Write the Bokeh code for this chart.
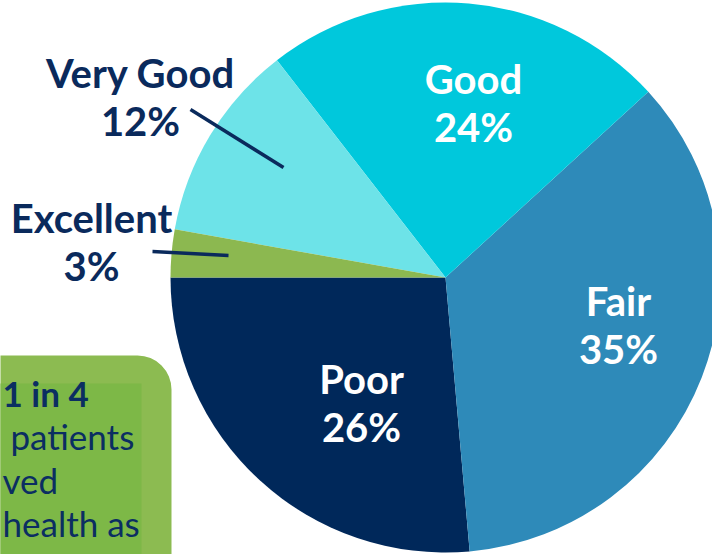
import math
from bokeh.plotting import figure
from bokeh.models import ColumnDataSource, Range1d, BoxAnnotation
from bokeh.core.properties import value
from bokeh.embed import file_html
from bokeh.resources import INLINE

# ---- data ----
categories = ["Poor", "Fair", "Good", "Very Good", "Excellent"]
shares = [26.4, 35.4, 23.7, 11.7, 2.8]
slice_colors = ["#00285A", "#2E8AB9", "#00C8DC", "#6DE3E8", "#8CB850"]
callout_lines = ["1 in 4", "patients", "ved", "health as"]
callout_bold = [True, False, False, False]

# ---- layout constants (pixel-like data units, y up) ----
W, H = 712, 554
CX, CY, R = 445, H - 277, 275
NAVY = "#0A2A5C"
SHIFT = 15
# label anchor (x, baseline of first line) in screen px from top-left
label_pos = {
    "Poor": (361, 393, "#FFFFFF"),
    "Fair": (618, 315, "#FFFFFF"),
    "Good": (473, 93, "#FFFFFF"),
    "Very Good": (140, 87, NAVY),
    "Excellent": (91, 232, NAVY),
}
LINE_GAP = 48
leaders = {"Very Good": ((190, 109), (283, 167)), "Excellent": ((152, 251), (228, 255))}

# ---- wedges ----
total = sum(shares)
starts, ends = [], []
acc = math.pi
for s in shares:
    starts.append(acc)
    acc += 2 * math.pi * s / total
    ends.append(acc)

src = ColumnDataSource(dict(cat=categories, start=starts, end=ends, color=slice_colors))

p = figure(width=W, height=H, output_backend="svg", toolbar_location=None,
           x_range=Range1d(0, W), y_range=Range1d(0, H), min_border=0)
p.axis.visible = False
p.grid.visible = False
p.outline_line_color = None
p.background_fill_color = "white"
p.border_fill_color = "white"

# callout box (behind)
outer = BoxAnnotation(left=-60, right=171, top=H - 355, bottom=-60,
                      fill_color="#8CBB51", fill_alpha=1, line_color=None,
                      border_radius=34, level="underlay")
inner = BoxAnnotation(left=-60, right=141, top=H - 383, bottom=-60,
                      fill_color="#7DB847", fill_alpha=1, line_color=None,
                      level="underlay")
p.add_layout(outer)
p.add_layout(inner)

p.wedge(x=CX, y=CY, radius=R, start_angle="start", end_angle="end",
        fill_color="color", line_color=None, source=src)

# slice labels
lx, ly, lt, lc = [], [], [], []
for c, s in zip(categories, shares):
    x0, y0, col = label_pos[c]
    lx += [x0, x0]
    ly += [H - (y0 - SHIFT), H - (y0 - SHIFT) - LINE_GAP]
    lt += [c, f"{round(s)}%"]
    lc += [col, col]
p.text(x=lx, y=ly, text=lt, text_color=lc, text_font=value("Lato"),
       text_font_style="bold", text_font_size="40px",
       text_align="center", text_baseline="alphabetic")

# leader lines
for c, ((x0, y0), (x1, y1)) in leaders.items():
    p.segment(x0=[x0], y0=[H - y0], x1=[x1], y1=[H - y1],
              line_color=NAVY, line_width=3.5)

# callout text
left_edges = [2, 10, 2, 2]
baselines = [405, 448, 492, 535]
for t, b, xl, yb in zip(callout_lines, callout_bold, left_edges, baselines):
    p.text(x=[xl], y=[H - (yb - 13)], text=[t], text_color="#0B2E62",
           text_font=value("Lato"), text_font_style="bold" if b else "normal",
           text_font_size="35px", text_align="left", text_baseline="alphabetic")

open("out.html", "w").write(file_html(p, INLINE))
